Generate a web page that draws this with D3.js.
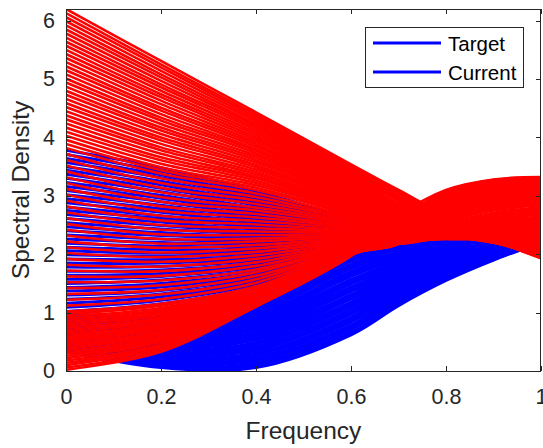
<!DOCTYPE html>
<html>
<head>
<meta charset="utf-8">
<script src="https://cdn.jsdelivr.net/npm/d3@7"></script>
<style>
  html, body { margin: 0; padding: 0; background: #ffffff; }
  svg { display: block; font-family: "Liberation Sans", Arial, Helvetica, sans-serif; }
</style>
</head>
<body>
<svg id="chart" width="543" height="448"></svg>
<script>
// Frequency grid shared by every curve
const frequency = [0, 0.2, 0.4, 0.6, 0.7, 0.8, 0.9, 1.0];

// Target spectral densities: one row per frequency, one entry per curve (75 curves)
const targetDensity = [
  [3.78,3.71,3.64,3.57,3.50,3.44,3.37,3.30,3.23,3.16,
   3.09,3.02,2.95,2.88,2.81,2.75,2.68,2.61,2.54,2.47,
   2.40,2.33,2.26,2.19,2.12,2.06,1.99,1.92,1.85,1.78,
   1.71,1.64,1.57,1.50,1.43,1.37,1.30,1.23,1.16,1.09,
   1.02,
   1.00,0.98,0.96,0.94,0.92,0.90,0.88,0.86,0.84,0.82,
   0.80,0.78,0.76,0.74,0.72,0.70,0.68,0.66,0.64,0.62,
   0.60,0.58,0.56,0.54,0.52,0.50,0.48,0.46,0.44,0.42,
   0.40,0.38,0.36,0.34],
  [3.48,3.42,3.36,3.31,3.25,3.19,3.13,3.07,3.01,2.96,
   2.90,2.84,2.78,2.72,2.66,2.61,2.55,2.49,2.43,2.37,
   2.32,2.26,2.20,2.14,2.08,2.02,1.97,1.91,1.85,1.79,
   1.73,1.67,1.62,1.56,1.50,1.44,1.38,1.32,1.27,1.21,
   1.15,
   0.92,0.89,0.87,0.84,0.82,0.79,0.76,0.74,0.71,0.69,
   0.66,0.63,0.61,0.58,0.55,0.53,0.50,0.48,0.45,0.42,
   0.40,0.37,0.35,0.32,0.29,0.27,0.24,0.22,0.19,0.16,
   0.14,0.11,0.09,0.06],
  [3.08,3.04,3.00,2.96,2.92,2.88,2.84,2.79,2.75,2.71,
   2.67,2.63,2.59,2.55,2.51,2.47,2.43,2.39,2.35,2.31,
   2.27,2.22,2.18,2.14,2.10,2.06,2.02,1.98,1.94,1.90,
   1.86,1.82,1.78,1.74,1.69,1.65,1.61,1.57,1.53,1.49,
   1.45,
   1.25,1.21,1.18,1.14,1.11,1.07,1.03,1.00,0.96,0.93,
   0.89,0.85,0.82,0.78,0.75,0.71,0.67,0.64,0.60,0.56,
   0.53,0.49,0.46,0.42,0.38,0.35,0.31,0.28,0.24,0.20,
   0.17,0.13,0.10,0.06],
  [2.62,2.61,2.59,2.58,2.56,2.55,2.53,2.52,2.51,2.49,
   2.48,2.46,2.45,2.43,2.42,2.41,2.39,2.38,2.36,2.35,
   2.33,2.32,2.31,2.29,2.28,2.26,2.25,2.24,2.22,2.21,
   2.19,2.18,2.16,2.15,2.14,2.12,2.11,2.09,2.08,2.06,
   2.05,
   2.05,2.01,1.96,1.92,1.88,1.83,1.79,1.75,1.70,1.66,
   1.62,1.57,1.53,1.49,1.44,1.40,1.36,1.31,1.27,1.23,
   1.18,1.14,1.10,1.05,1.01,0.97,0.92,0.88,0.84,0.79,
   0.75,0.71,0.66,0.62],
  [2.45,2.45,2.44,2.44,2.43,2.43,2.42,2.42,2.41,2.41,
   2.40,2.40,2.39,2.39,2.38,2.38,2.37,2.37,2.36,2.36,
   2.35,2.35,2.34,2.34,2.33,2.33,2.32,2.32,2.31,2.31,
   2.30,2.30,2.29,2.29,2.28,2.28,2.27,2.27,2.26,2.26,
   2.25,
   2.25,2.22,2.18,2.15,2.11,2.08,2.04,2.01,1.98,1.94,
   1.91,1.87,1.84,1.80,1.77,1.74,1.70,1.67,1.63,1.60,
   1.57,1.53,1.50,1.46,1.43,1.39,1.36,1.33,1.29,1.26,
   1.22,1.19,1.15,1.12],
  [2.40,2.40,2.40,2.39,2.39,2.39,2.39,2.39,2.38,2.38,
   2.38,2.38,2.38,2.37,2.37,2.37,2.37,2.37,2.36,2.36,
   2.36,2.36,2.36,2.35,2.35,2.35,2.35,2.35,2.34,2.34,
   2.34,2.34,2.34,2.33,2.33,2.33,2.33,2.33,2.32,2.32,
   2.32,
   2.32,2.30,2.27,2.25,2.23,2.20,2.18,2.16,2.13,2.11,
   2.09,2.06,2.04,2.02,1.99,1.97,1.95,1.92,1.90,1.88,
   1.85,1.83,1.81,1.78,1.76,1.74,1.71,1.69,1.67,1.64,
   1.62,1.60,1.57,1.55],
  [2.40,2.40,2.40,2.39,2.39,2.39,2.39,2.38,2.38,2.38,
   2.38,2.37,2.37,2.37,2.37,2.36,2.36,2.36,2.36,2.35,
   2.35,2.35,2.35,2.34,2.34,2.34,2.34,2.33,2.33,2.33,
   2.33,2.32,2.32,2.32,2.32,2.31,2.31,2.31,2.31,2.30,
   2.30,
   2.30,2.29,2.28,2.26,2.25,2.24,2.23,2.22,2.20,2.19,
   2.18,2.17,2.15,2.14,2.13,2.12,2.11,2.09,2.08,2.07,
   2.06,2.05,2.03,2.02,2.01,2.00,1.98,1.97,1.96,1.95,
   1.94,1.92,1.91,1.90],
  [2.42,2.42,2.41,2.41,2.41,2.41,2.40,2.40,2.40,2.39,
   2.39,2.39,2.38,2.38,2.38,2.38,2.37,2.37,2.37,2.36,
   2.36,2.36,2.35,2.35,2.35,2.35,2.34,2.34,2.34,2.33,
   2.33,2.33,2.32,2.32,2.32,2.32,2.31,2.31,2.31,2.30,
   2.30,
   2.30,2.30,2.29,2.29,2.29,2.28,2.28,2.28,2.28,2.27,
   2.27,2.27,2.26,2.26,2.26,2.25,2.25,2.25,2.25,2.24,
   2.24,2.24,2.23,2.23,2.23,2.22,2.22,2.22,2.22,2.21,
   2.21,2.21,2.20,2.20]
];

// Current spectral densities: one row per frequency, one entry per curve (88 curves)
const currentDensity = [
  [6.20,6.13,6.06,5.99,5.92,5.85,5.78,5.71,5.64,5.57,
   5.50,5.43,5.36,5.29,5.22,5.15,5.08,5.01,4.94,4.87,
   4.80,4.73,4.66,4.59,4.52,4.45,4.38,4.31,4.24,4.17,
   4.10,4.03,3.96,3.89,3.82,3.72,3.62,3.52,3.42,3.32,
   3.22,3.12,3.02,2.92,2.82,2.72,2.62,2.52,2.42,2.32,
   2.22,2.12,2.02,1.92,1.82,1.72,1.62,1.52,1.42,1.32,
   1.22,1.12,1.02,0.98,0.94,0.90,0.86,0.82,0.78,0.74,
   0.70,0.66,0.62,0.58,0.54,0.50,0.46,0.42,0.38,0.34,
   0.30,0.26,0.22,0.18,0.14,0.10,0.06,0.02],
  [5.31,5.25,5.20,5.14,5.08,5.03,4.97,4.91,4.86,4.80,
   4.74,4.69,4.63,4.57,4.51,4.46,4.40,4.34,4.29,4.23,
   4.17,4.12,4.06,4.00,3.95,3.89,3.83,3.78,3.72,3.66,
   3.61,3.55,3.49,3.44,3.38,3.30,3.22,3.14,3.06,2.98,
   2.90,2.82,2.74,2.66,2.58,2.50,2.42,2.34,2.26,2.18,
   2.11,2.03,1.95,1.87,1.79,1.71,1.63,1.55,1.47,1.39,
   1.31,1.23,1.15,1.12,1.08,1.05,1.02,0.99,0.96,0.92,
   0.89,0.86,0.82,0.79,0.76,0.73,0.69,0.66,0.63,0.59,
   0.56,0.53,0.50,0.46,0.43,0.40,0.36,0.33],
  [4.43,4.39,4.35,4.31,4.27,4.23,4.20,4.16,4.12,4.08,
   4.04,4.00,3.96,3.92,3.88,3.84,3.80,3.77,3.73,3.69,
   3.65,3.61,3.57,3.53,3.49,3.45,3.41,3.37,3.33,3.30,
   3.26,3.22,3.18,3.14,3.10,3.04,2.98,2.92,2.86,2.80,
   2.75,2.69,2.63,2.57,2.51,2.45,2.39,2.33,2.27,2.22,
   2.16,2.10,2.04,1.98,1.92,1.86,1.80,1.74,1.69,1.63,
   1.57,1.51,1.45,1.44,1.43,1.41,1.40,1.38,1.37,1.36,
   1.34,1.33,1.31,1.30,1.28,1.27,1.26,1.24,1.23,1.21,
   1.20,1.18,1.17,1.16,1.14,1.13,1.11,1.10],
  [3.54,3.51,3.48,3.45,3.42,3.39,3.36,3.33,3.30,3.27,
   3.24,3.21,3.19,3.16,3.13,3.11,3.08,3.05,3.03,3.00,
   2.97,2.95,2.93,2.90,2.88,2.86,2.83,2.81,2.79,2.76,
   2.74,2.72,2.70,2.67,2.65,2.62,2.59,2.57,2.54,2.52,
   2.49,2.46,2.44,2.41,2.38,2.36,2.34,2.32,2.30,2.28,
   2.26,2.24,2.22,2.20,2.18,2.16,2.15,2.13,2.12,2.10,
   2.09,2.07,2.06,2.05,2.05,2.05,2.04,2.04,2.03,2.03,
   2.02,2.02,2.02,2.01,2.01,2.00,2.00,2.00,1.99,1.99,
   1.99,1.99,1.98,1.98,1.98,1.98,1.97,1.97],
  [3.10,3.07,3.04,3.00,2.97,2.94,2.91,2.87,2.84,2.81,
   2.78,2.75,2.73,2.70,2.68,2.65,2.62,2.60,2.57,2.55,
   2.52,2.51,2.49,2.47,2.45,2.44,2.42,2.40,2.39,2.37,
   2.35,2.34,2.32,2.30,2.29,2.27,2.26,2.25,2.24,2.24,
   2.23,2.22,2.21,2.20,2.19,2.18,2.19,2.19,2.20,2.21,
   2.21,2.22,2.22,2.23,2.24,2.24,2.23,2.23,2.22,2.22,
   2.21,2.21,2.20,2.20,2.19,2.19,2.19,2.18,2.18,2.18,
   2.18,2.18,2.19,2.19,2.20,2.21,2.22,2.24,2.26,2.28,
   2.31,2.34,2.38,2.42,2.47,2.53,2.59,2.66],
  [2.66,2.64,2.62,2.60,2.58,2.56,2.54,2.53,2.51,2.49,
   2.47,2.46,2.44,2.43,2.42,2.40,2.39,2.38,2.37,2.35,
   2.34,2.33,2.33,2.32,2.32,2.31,2.31,2.30,2.30,2.29,
   2.28,2.28,2.27,2.27,2.26,2.26,2.27,2.27,2.28,2.28,
   2.29,2.30,2.30,2.31,2.31,2.32,2.34,2.36,2.37,2.39,
   2.41,2.43,2.45,2.47,2.49,2.50,2.53,2.56,2.59,2.62,
   2.65,2.68,2.71,2.72,2.74,2.75,2.77,2.78,2.80,2.81,
   2.83,2.84,2.86,2.87,2.89,2.90,2.92,2.93,2.95,2.97,
   2.98,3.00,3.02,3.03,3.05,3.07,3.08,3.10],
  [2.25,2.25,2.24,2.24,2.23,2.23,2.22,2.22,2.21,2.21,
   2.21,2.20,2.20,2.20,2.20,2.20,2.20,2.20,2.20,2.20,
   2.20,2.21,2.21,2.22,2.22,2.23,2.23,2.24,2.24,2.25,
   2.25,2.26,2.26,2.26,2.27,2.28,2.30,2.31,2.33,2.34,
   2.36,2.38,2.39,2.41,2.42,2.44,2.46,2.49,2.51,2.54,
   2.56,2.59,2.61,2.63,2.66,2.68,2.71,2.75,2.78,2.81,
   2.84,2.87,2.90,2.92,2.93,2.95,2.96,2.98,2.99,3.01,
   3.02,3.03,3.05,3.06,3.08,3.09,3.11,3.12,3.14,3.16,
   3.17,3.19,3.20,3.22,3.23,3.25,3.27,3.28],
  [1.93,1.94,1.95,1.95,1.96,1.97,1.98,1.98,1.99,2.00,
   2.01,2.02,2.03,2.04,2.05,2.06,2.07,2.08,2.09,2.10,
   2.11,2.12,2.13,2.14,2.16,2.17,2.18,2.19,2.20,2.22,
   2.23,2.24,2.25,2.27,2.28,2.30,2.32,2.34,2.36,2.39,
   2.41,2.43,2.45,2.48,2.50,2.52,2.55,2.57,2.60,2.62,
   2.65,2.68,2.70,2.73,2.76,2.78,2.81,2.84,2.87,2.90,
   2.93,2.96,2.99,3.00,3.02,3.03,3.04,3.06,3.07,3.08,
   3.10,3.11,3.12,3.14,3.15,3.16,3.17,3.19,3.20,3.21,
   3.22,3.24,3.25,3.26,3.28,3.29,3.30,3.32]
];

// Axis ticks and labels
const xTicks = [0, 0.2, 0.4, 0.6, 0.8, 1];
const xTickLabels = ["0", "0.2", "0.4", "0.6", "0.8", "1"];
const yTicks = [0, 1, 2, 3, 4, 5, 6];
const yTickLabels = ["0", "1", "2", "3", "4", "5", "6"];

// Legend entries
const legendLabels = ["Target", "Current"];
const legendColors = ["#0000ff", "#0000ff"];

const targetColor = "#0000ff";
const currentColor = "#ff0000";
const axisColor = "#262626";
const targetWidth = 3;
const currentWidth = 2.6;

const plotLeft = 66, plotRight = 541, plotTop = 9, plotBottom = 371;

const svg = d3.select("#chart");

const x = d3.scaleLinear().domain([0, 1]).range([plotLeft, plotRight]);
const y = d3.scaleLinear().domain([0, 6.2]).range([plotBottom, plotTop]);

// Turn the frequency-major tables into one point list per curve
const curvesOf = table => table[0].map((_, k) => frequency.map((f, j) => [f, table[j][k]]));

const line = d3.line()
  .x(d => x(d[0]))
  .y(d => y(d[1]))
  .curve(d3.curveCatmullRom.alpha(0.5));

svg.append("clipPath").attr("id", "plot-area")
  .append("rect")
  .attr("x", plotLeft).attr("y", plotTop)
  .attr("width", plotRight - plotLeft).attr("height", plotBottom - plotTop);

const plot = svg.append("g").attr("clip-path", "url(#plot-area)");

plot.append("g").attr("class", "target")
  .selectAll("path")
  .data(curvesOf(targetDensity))
  .join("path")
  .attr("d", line)
  .attr("fill", "none")
  .attr("stroke", targetColor)
  .attr("stroke-width", targetWidth);

plot.append("g").attr("class", "current")
  .selectAll("path")
  .data(curvesOf(currentDensity))
  .join("path")
  .attr("d", line)
  .attr("fill", "none")
  .attr("stroke", currentColor)
  .attr("stroke-width", currentWidth);

// Axes with inward ticks on all four sides
function styleAxis(g, withText) {
  g.select(".domain").remove();
  g.selectAll(".tick line").attr("stroke", axisColor).attr("stroke-width", 1)
    .attr("shape-rendering", "crispEdges");
  if (withText) {
    g.selectAll(".tick text")
      .attr("fill", axisColor)
      .attr("font-size", "21.5px")
      .attr("font-family", "'Liberation Sans', Arial, Helvetica, sans-serif");
  }
}

svg.append("g")
  .attr("transform", `translate(0,${plotBottom})`)
  .call(d3.axisBottom(x).tickValues(xTicks)
    .tickFormat((d, i) => xTickLabels[i])
    .tickSizeInner(-5).tickSizeOuter(0).tickPadding(18))
  .call(g => styleAxis(g, true));

svg.append("g")
  .attr("transform", `translate(0,${plotTop})`)
  .call(d3.axisTop(x).tickValues(xTicks).tickFormat("")
    .tickSizeInner(-5).tickSizeOuter(0))
  .call(g => styleAxis(g, false));

svg.append("g")
  .attr("transform", `translate(${plotLeft},0)`)
  .call(d3.axisLeft(y).tickValues(yTicks)
    .tickFormat((d, i) => yTickLabels[i])
    .tickSizeInner(-5).tickSizeOuter(0).tickPadding(11))
  .call(g => styleAxis(g, true));

svg.append("g")
  .attr("transform", `translate(${plotRight},0)`)
  .call(d3.axisRight(y).tickValues(yTicks).tickFormat("")
    .tickSizeInner(-5).tickSizeOuter(0))
  .call(g => styleAxis(g, false));

// Axes box
svg.append("rect")
  .attr("x", plotLeft + 0.5).attr("y", plotTop + 0.5)
  .attr("width", plotRight - plotLeft - 1).attr("height", plotBottom - plotTop)
  .attr("fill", "none")
  .attr("stroke", axisColor)
  .attr("stroke-width", 1);

// Axis titles
svg.append("text")
  .attr("x", (plotLeft + plotRight) / 2)
  .attr("y", 439)
  .attr("text-anchor", "middle")
  .attr("font-size", "24.5px")
  .attr("fill", axisColor)
  .text("Frequency");

svg.append("text")
  .attr("transform", `translate(29,${(plotTop + plotBottom) / 2}) rotate(-90)`)
  .attr("text-anchor", "middle")
  .attr("font-size", "24.5px")
  .attr("fill", axisColor)
  .text("Spectral Density");

// Legend
const legend = svg.append("g").attr("class", "legend");
legend.append("rect")
  .attr("x", 365.5).attr("y", 27.5)
  .attr("width", 158).attr("height", 60)
  .attr("fill", "#ffffff")
  .attr("stroke", axisColor)
  .attr("stroke-width", 1);

const entries = legend.selectAll("g.entry")
  .data(legendLabels)
  .join("g")
  .attr("class", "entry")
  .attr("transform", (d, i) => `translate(0,${43 + i * 29})`);

entries.append("line")
  .attr("x1", 373).attr("x2", 441)
  .attr("y1", 0).attr("y2", 0)
  .attr("stroke", (d, i) => legendColors[i])
  .attr("stroke-width", 3);

entries.append("text")
  .attr("x", 448)
  .attr("y", 7.5)
  .attr("font-size", "20.5px")
  .attr("fill", "#000000")
  .text(d => d);
</script>
</body>
</html>
